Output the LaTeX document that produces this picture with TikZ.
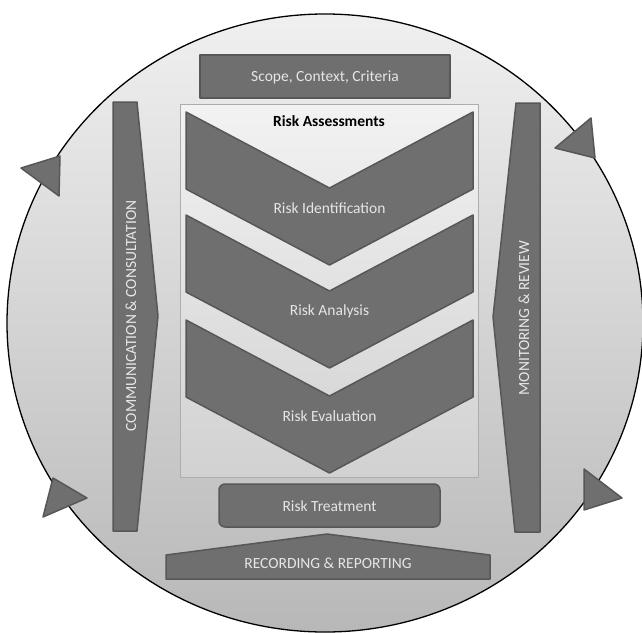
\documentclass[tikz,border=0pt]{standalone}
\usepackage{fontspec}
\setmainfont{Carlito}
\definecolor{shapegray}{HTML}{6F6F6F}
\definecolor{edgegray}{HTML}{575757}
\definecolor{labelgray}{HTML}{E6E6E6}
\tikzset{
  darkshape/.style={fill=shapegray, draw=edgegray, line width=1.5pt, line join=round},
  lightlabel/.style={text=labelgray, font=\fontsize{15.5}{18}\selectfont, inner sep=0pt},
}
\begin{document}
\begin{tikzpicture}[x=1pt, y=-1pt]
\useasboundingbox (0,0) rectangle (642,632);

% Outer cycle with its four arrow heads
\shade[top color=black!6, bottom color=black!28, draw=black, line width=1.3pt] (325,323) ellipse [x radius=318pt, y radius=309pt];
\draw[darkshape] (21,168) -- (60,156) -- (59,196) -- cycle;
\draw[darkshape] (555,148) -- (591,118) -- (595,158) -- cycle;
\draw[darkshape] (87,498) -- (53,478) -- (43,517) -- cycle;
\draw[darkshape] (622,498) -- (584,469) -- (584,510) -- cycle;

% Top box
\draw[darkshape] (200,55) rectangle (450,98);
\node[lightlabel] (scope) at (325,77) {Scope, Context, Criteria};

% Assessment panel and the three chevrons
\shade[top color=black!5, bottom color=black!18, draw=black!32, line width=1pt] (180,104) rectangle (478,477);
\node[font=\fontsize{15.5}{18}\selectfont\bfseries, inner sep=0pt] (assess) at (329,121) {Risk Assessments};
\draw[darkshape] (186,112) -- (329.5,188) -- (473,112) -- (473,189) -- (329.5,265) -- (186,189) -- cycle;
\node[lightlabel] (identify) at (329.5,208) {Risk Identification};
\draw[darkshape] (186,215) -- (329.5,291) -- (473,215) -- (473,292) -- (329.5,368) -- (186,292) -- cycle;
\node[lightlabel] (analyse) at (329.5,311) {Risk Analysis};
\draw[darkshape] (186,320) -- (329.5,396) -- (473,320) -- (473,397) -- (329.5,473) -- (186,397) -- cycle;
\node[lightlabel] (evaluate) at (329.5,416) {Risk Evaluation};

% Treatment and reporting
\draw[darkshape, rounded corners=6pt] (219,484) rectangle (440,527);
\node[lightlabel] (treat) at (329.5,506) {Risk Treatment};
\draw[darkshape] (166,555) -- (327,534) -- (490,555) -- (490,579) -- (166,579) -- cycle;
\node[lightlabel] (record) at (328,563) {RECORDING \& REPORTING};

% Side bars
\draw[darkshape] (113,102) -- (137,102) -- (158,316) -- (137,531) -- (113,531) -- cycle;
\node[lightlabel, rotate=90] (comm) at (131,316) {COMMUNICATION \& CONSULTATION};
\draw[darkshape] (516,103) -- (540,103) -- (540,532) -- (515,532) -- (493,317) -- cycle;
\node[lightlabel, rotate=90] (monitor) at (524,318) {MONITORING \& REVIEW};
\end{tikzpicture}
\end{document}
